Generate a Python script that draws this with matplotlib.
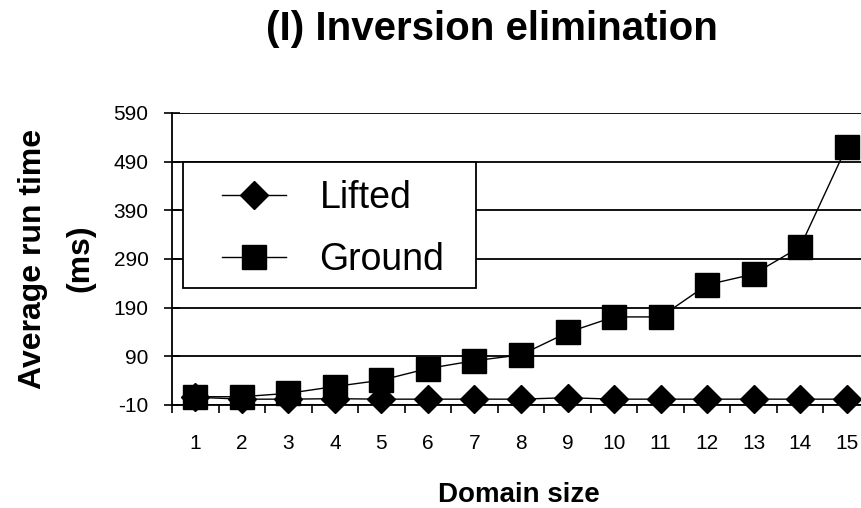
import matplotlib
matplotlib.use('Agg')
import matplotlib.pyplot as plt
from matplotlib.patches import Rectangle
import numpy as np

plt.rcParams['font.family'] = ['Liberation Sans', 'DejaVu Sans']
plt.rcParams['axes.unicode_minus'] = False

# data
domain_size = [1, 2, 3, 4, 5, 6, 7, 8, 9, 10, 11, 12, 13, 14, 15]
lifted = [6, 2, 2, 3, 2, 2, 2, 2, 5, 2, 2, 2, 2, 2, 2]
ground = [7, 7, 14, 28, 41, 65, 81, 93, 139, 171, 171, 237, 259, 315, 521]
y_ticks = [-10, 90, 190, 290, 390, 490, 590]

W, H = 861, 508
fig = plt.figure(figsize=(W / 100, H / 100), dpi=100)
ax = fig.add_axes([172 / W, 1 - 405 / H, 698 / W, 292 / H])

x = np.array(domain_size)
ax.plot(x, lifted, color='black', lw=1.0, marker='D', ms=14.5,
        mfc='black', mec='black', label='Lifted', zorder=4, clip_on=False)
ax.plot(x, ground, color='black', lw=1.0, marker='s', ms=17,
        mfc='black', mec='black', label='Ground', zorder=4, clip_on=False)

ax.set_xlim(0.5, 15.5)
ax.set_ylim(-10, 590)
ax.set_yticks(y_ticks)
ax.set_xticks(x)
ax.set_xticks(np.arange(0.5, 16, 1), minor=True)
ax.set_xticklabels([str(v) for v in domain_size])

for v in y_ticks:
    ax.axhline(v, color='black', lw=1.3, zorder=1)

for s in ['top', 'right']:
    ax.spines[s].set_visible(False)
ax.spines['left'].set_linewidth(1.3)
ax.spines['bottom'].set_linewidth(1.3)

ax.tick_params(axis='y', direction='inout', length=12, width=1.2,
               labelsize=15, pad=11, colors='black')
ax.tick_params(axis='x', which='major', length=0, labelsize=15, pad=21)
ax.tick_params(axis='x', which='minor', direction='out', length=6, width=1.2)

# legend box
ax.add_patch(Rectangle((183 / W, 1 - 288 / H), 293 / W, 126 / H,
                       transform=fig.transFigure, facecolor='white',
                       edgecolor='black', lw=1.3, zorder=3, clip_on=False))
ax.legend(loc='upper left', bbox_to_anchor=(222 / W, 1 - 180 / H),
          bbox_transform=fig.transFigure, frameon=False, fontsize=27,
          borderpad=0, borderaxespad=0, handlelength=1.7, handletextpad=0.9,
          labelspacing=0.69, numpoints=1)

fig.text(492 / W, 1 - 40 / H, '(I) Inversion elimination', fontsize=29,
         fontweight='bold', ha='center', va='baseline')
fig.text(41 / W, 1 - 258.5 / H, 'Average run time', fontsize=23,
         fontweight='bold', rotation=90, rotation_mode='anchor',
         ha='center', va='baseline')
fig.text(88 / W, 1 - 258.5 / H, '(ms)', fontsize=23,
         fontweight='bold', rotation=90, rotation_mode='anchor',
         ha='center', va='baseline')
fig.text(519 / W, 1 - 502 / H, 'Domain size', fontsize=20,
         fontweight='bold', ha='center', va='baseline')

fig.savefig('out.png', dpi=100)
